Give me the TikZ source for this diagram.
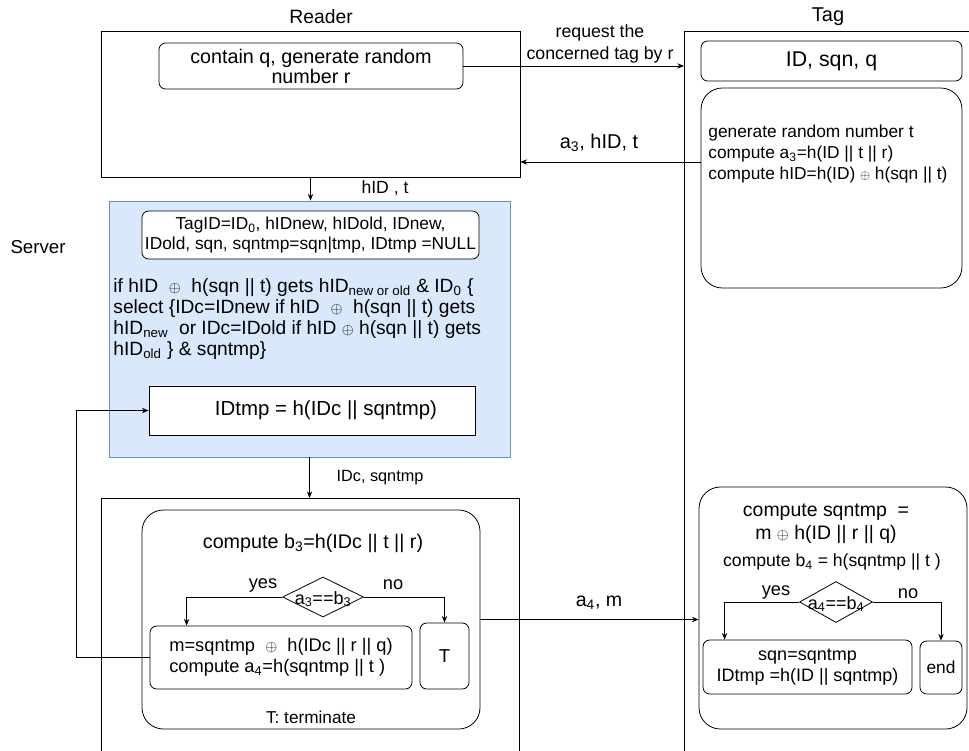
\documentclass[tikz,border=0pt]{standalone}
\usepackage{fontspec}
\setmainfont{Liberation Sans}
\usetikzlibrary{arrows.meta,shapes.geometric}
\definecolor{srvfill}{HTML}{DAE8FC}
\definecolor{srvline}{HTML}{6C8EBF}
\newcommand\pxu{0.75pt}
\newcommand\oxor{\scalebox{0.8}{$\oplus$}}
\newcommand\fsz[2]{\fontsize{#1}{#2}\selectfont}
\begin{document}
\begin{tikzpicture}[x=0.75pt,y=-0.75pt,line width=0.6pt,
  box/.style={draw,inner sep=2pt,align=center},
  rbox/.style={box,rounded corners=5pt},
  bigbox/.style={box,rounded corners=16pt},
  dia/.style={draw,diamond,inner sep=0pt},
  arr/.style={-{Stealth[length=5pt,width=4pt]}},
  txt/.style={inner sep=0pt,align=center},
  node font={\fsz{14}{15}}]
\useasboundingbox (0,0) rectangle (969,750);
\clip (0,0) rectangle (969,750);
\node[txt,font=\fsz{14.5}{16}] (readerlbl) at (321,17) {Reader};
\node[txt,font=\fsz{15}{16}] (taglbl) at (828,17) {Tag};
\node[txt] (serverlbl) at (38,247) {Server};
\node[box,minimum width=419*\pxu,minimum height=146*\pxu] (reader) at (310.5,104) {};
\node[rbox,minimum width=304*\pxu,minimum height=46*\pxu,font=\fsz{14.8}{15}] (rgen) at (311,66) {contain q, generate random\\number r};
\node[box,minimum width=330*\pxu,minimum height=760*\pxu,anchor=north west] (tagcol) at (684,31) {};
\node[rbox,minimum width=261*\pxu,minimum height=40*\pxu,font=\fsz{16}{18}] (tagkey) at (831.5,61) {ID, sqn, q};
\node[bigbox,minimum width=261*\pxu,minimum height=200*\pxu] (tagcalc) at (831.5,188) {};
\node[txt,anchor=west,align=left,font=\fsz{13}{15.75}] (tagcalctxt) at (708,154) {generate random number t\\compute a\textsubscript{3}=h(ID || t || r)\\compute hID=h(ID) \oxor{} h(sqn || t)};
\draw[arr] (rgen.east) -- (rgen.east -| tagcol.west);
\node[txt,font=\fsz{13.3}{16.5}] (reqlbl) at (600,44) {request the\\concerned tag by r};
\draw[arr] ([yshift=19.5pt]tagcalc.west) -- ([yshift=19.5pt]tagcalc.west -| reader.east);
\node[txt,font=\fsz{15}{16}] (a3lbl) at (599,143) {a\textsubscript{3}, hID, t};
\node[box,fill=srvfill,draw=srvline,minimum width=401*\pxu,minimum height=256*\pxu] (server) at (309.5,329) {};
\draw[arr] (reader.south) -- (reader.south |- server.north);
\node[txt,font=\fsz{13.2}{15}] (hidlbl) at (385,188) {hID , t};
\node[rbox,fill=white,inner sep=0pt,minimum width=337*\pxu,minimum height=48*\pxu,font=\fsz{13}{15}] (tagdb) at (310.5,235) {TagID=ID\textsubscript{0}, hIDnew, hIDold, IDnew,\\IDold, sqn, sqntmp=sqn|tmp, IDtmp =NULL};
\node[txt,anchor=west,align=left,font=\fsz{14.4}{15.75}] (srvtxt) at (113,319) {if hID~ \oxor{}~ h(sqn || t) gets hID\textsubscript{new or old} \& ID\textsubscript{0} \{\\select \{IDc=IDnew if hID~ \oxor{}~ h(sqn || t) gets\\hID\textsubscript{new}~ or IDc=IDold if hID \oxor{} h(sqn || t) gets\\hID\textsubscript{old} \} \& sqntmp\}};
\node[box,fill=white,minimum width=326*\pxu,minimum height=49*\pxu,font=\fsz{15.3}{16}] (idtmp) at (312,410.5) {\hspace*{21pt}IDtmp = h(IDc || sqntmp)};
\node[box,minimum width=418*\pxu,minimum height=300*\pxu,anchor=north west] (readerlow) at (101,498) {};
\draw[arr] (server.south) -- (server.south |- readerlow.north);
\node[txt,font=\fsz{12.2}{14}] (idclbl) at (380,478) {IDc, sqntmp};
\node[bigbox,minimum width=338*\pxu,minimum height=219*\pxu] (verify) at (311,619.5) {};
\node[txt,font=\fsz{14.8}{16}] (b3txt) at (313,543) {compute b\textsubscript{3}=h(IDc || t || r)};
\node[dia,minimum width=81*\pxu,minimum height=40*\pxu] (chk3) at (323,597) {};
\node[txt,font=\fsz{13.5}{15}] (chk3txt) at (323,599) {a\textsubscript{3}==b\textsubscript{3}};
\node[txt,font=\fsz{13.7}{15}] (yes3) at (263,585) {yes};
\node[txt,font=\fsz{13.7}{15}] (no3) at (393,585) {no};
\node[rbox,align=left,minimum width=262*\pxu,minimum height=63*\pxu,font=\fsz{13.7}{15.5}] (mcalc) at (281,657.5) {m=sqntmp~ \oxor{}~ h(IDc || r || q)\\compute a\textsubscript{4}=h(sqntmp || t )};
\node[rbox,minimum width=49*\pxu,minimum height=66*\pxu,font=\fsz{14}{15}] (term) at (444.5,656) {T};
\node[txt,font=\fsz{12.9}{15}] (termtxt) at (311,717) {T: terminate};
\draw[arr] (chk3.west) -| ([xshift=37*\pxu]mcalc.north west);
\draw[arr] (chk3.east) -| (term.north);
\draw[arr] (mcalc.west) -- ++(-73,0) |- (idtmp.west);
\node[bigbox,minimum width=268*\pxu,minimum height=242*\pxu] (tagres) at (833,608) {};
\draw[arr] (verify.east) -- (verify.east -| tagres.west);
\node[txt,font=\fsz{14.7}{16}] (a4lbl) at (599,603) {a\textsubscript{4}, m};
\node[txt,font=\fsz{14.6}{17}] (sqntxt) at (826,524) {compute sqntmp~ =\\m \oxor{} h(ID || r || q)};
\node[txt,font=\fsz{13.2}{15}] (b4txt) at (832,562) {compute b\textsubscript{4} = h(sqntmp || t )};
\node[dia,minimum width=73*\pxu,minimum height=41*\pxu] (chk4) at (836,602) {};
\node[txt,font=\fsz{13.5}{15}] (chk4txt) at (836,604) {a\textsubscript{4}==b\textsubscript{4}};
\node[txt,font=\fsz{13.7}{15}] (yes4) at (776,592) {yes};
\node[txt,font=\fsz{13.7}{15}] (no4) at (908,594) {no};
\node[rbox,minimum width=209*\pxu,minimum height=54*\pxu,font=\fsz{13.5}{16}] (upd) at (807.5,667) {sqn=sqntmp\\IDtmp =h(ID || sqntmp)};
\node[rbox,minimum width=42*\pxu,minimum height=53*\pxu,font=\fsz{13}{15}] (fin) at (941,667.5) {end};
\draw[arr] (chk4.west) -| ([xshift=22*\pxu]upd.north west);
\draw[arr] (chk4.east) -| (fin.north);
\end{tikzpicture}
\end{document}
